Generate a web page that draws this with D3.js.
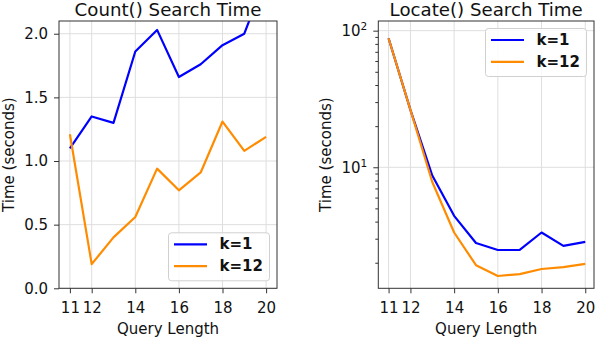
<!DOCTYPE html>
<html><head><meta charset="utf-8">
<script src="https://cdn.jsdelivr.net/npm/d3@7"></script>
<style>
body{margin:0;background:#fff;}
svg{display:block;font-family:"DejaVu Sans",sans-serif;}
</style></head><body>
<svg id="c" width="597" height="340"></svg>
<script>
const queryLength = [11,12,13,14,15,16,17,18,19,20];
const countK1  = [1.10,1.35,1.30,1.86,2.03,1.66,1.76,1.91,2.00,2.45];
const countK12 = [1.21,0.19,0.40,0.56,0.94,0.77,0.91,1.31,1.08,1.19];
const locateK1  = [88,26.3,8.7,4.41,2.79,2.48,2.48,3.33,2.66,2.84];
const locateK12 = [88,26.3,7.8,3.33,1.92,1.60,1.65,1.80,1.86,1.96];
const xTicks = [11,12,14,16,18,20];
const countYTicks = [0.0,0.5,1.0,1.5,2.0];
const locateYTicks = [10,100];
const locateMinor = [2,3,4,5,6,7,8,9,20,30,40,50,60,70,80,90];
const seriesNames = ["k=1","k=12"];
const seriesColors = ["#0000ff","#ff8c00"];
const titles = ["Count() Search Time","Locate() Search Time"];

const svg = d3.select("#c");
const FONT = 15;

function panel(cfg){
  const {x0,x1,y0,y1,x,y,ys,title,clipId,legendPos,yTickFmt,minor,ylabelX} = cfg;
  const g = svg.append("g");
  // grid
  g.selectAll(".gx").data(xTicks).join("line")
    .attr("x1",d=>x(d)).attr("x2",d=>x(d)).attr("y1",y0).attr("y2",y1)
    .attr("stroke","#dedede").attr("stroke-width",1);
  g.selectAll(".gy").data(cfg.yTicks).join("line")
    .attr("x1",x0).attr("x2",x1).attr("y1",d=>y(d)).attr("y2",d=>y(d))
    .attr("stroke","#dedede").attr("stroke-width",1);
  // clip
  svg.append("clipPath").attr("id",clipId).append("rect")
    .attr("x",x0).attr("y",y0).attr("width",x1-x0).attr("height",y1-y0);
  const line = d3.line().x((d,i)=>x(queryLength[i])).y(d=>y(d));
  ys.forEach((vals,k)=>{
    g.append("path").datum(vals).attr("d",line)
      .attr("fill","none").attr("stroke",seriesColors[k]).attr("stroke-width",2.2)
      .attr("stroke-linejoin","round").attr("clip-path",`url(#${clipId})`);
  });
  // frame
  g.append("rect").attr("x",x0).attr("y",y0).attr("width",x1-x0).attr("height",y1-y0)
    .attr("fill","none").attr("stroke","#333").attr("stroke-width",1);
  // x axis
  const ax = g.append("g").attr("transform",`translate(0,${y1})`)
    .call(d3.axisBottom(x).tickValues(xTicks).tickSize(5).tickPadding(5).tickFormat(d3.format("d")));
  ax.select(".domain").remove();
  ax.selectAll("line").attr("stroke","#333");
  ax.selectAll("text").attr("font-size",FONT).attr("fill","#111")
    .attr("font-family","DejaVu Sans").attr("dy","0.95em");
  // y axis
  const ay = g.append("g").attr("transform",`translate(${x0},0)`)
    .call(d3.axisLeft(y).tickValues(cfg.yTicks).tickSize(5).tickPadding(6).tickFormat(yTickFmt||(d=>d3.format(".1f")(d))));
  ay.select(".domain").remove();
  ay.selectAll("line").attr("stroke","#333");
  ay.selectAll("text").attr("font-size",FONT).attr("fill","#111").attr("font-family","DejaVu Sans");
  if(cfg.superscript){
    ay.selectAll("text").each(function(d){
      const t = d3.select(this);
      t.text("");
      t.append("tspan").text("10");
      t.append("tspan").attr("font-size",10.5).attr("dy","-0.55em").text(Math.round(Math.log10(d)));
    });
  }
  if(minor){
    const am = g.append("g").attr("transform",`translate(${x0},0)`)
      .call(d3.axisLeft(y).tickValues(minor).tickSize(3).tickFormat(""));
    am.select(".domain").remove();
    am.selectAll("line").attr("stroke","#333");
  }
  // title
  g.append("text").attr("x",(x0+x1)/2).attr("y",15.5).attr("text-anchor","middle")
    .attr("font-size",18.2).attr("fill","#111").text(title);
  // xlabel
  g.append("text").attr("x",(x0+x1)/2).attr("y",334).attr("text-anchor","middle")
    .attr("font-size",FONT).attr("fill","#111").text("Query Length");
  // ylabel
  g.append("text").attr("transform",`translate(${ylabelX},${(y0+y1)/2}) rotate(-90)`)
    .attr("text-anchor","middle").attr("dominant-baseline","central")
    .attr("font-size",FONT).attr("fill","#111").text("Time (seconds)");
  // legend
  const lw = 101, lh = 48;
  const lx = legendPos==="lr" ? x1-7.5-lw : x1-7.5-lw;
  const ly = legendPos==="lr" ? y1-7.5-lh : y0+7.5;
  const lg = g.append("g").attr("transform",`translate(${lx},${ly})`);
  lg.append("rect").attr("width",lw).attr("height",lh).attr("rx",3)
    .attr("fill","#fff").attr("fill-opacity",0.85).attr("stroke","#d0d0d0");
  seriesNames.forEach((n,k)=>{
    const yy = 11.5 + k*21.8;
    lg.append("line").attr("x1",5.5).attr("x2",38.5).attr("y1",yy).attr("y2",yy)
      .attr("stroke",seriesColors[k]).attr("stroke-width",2.2);
    lg.append("text").attr("x",51).attr("y",yy).attr("dominant-baseline","central")
      .attr("font-size",FONT).attr("font-weight","bold").attr("fill","#111").text(n);
  });
}

const xL = d3.scaleLinear().domain([10.5,20.5]).range([59,277]);
const yL = d3.scaleLinear().domain([0,2.1]).range([288.3,21]);
panel({x0:59,x1:277,y0:21,y1:288.3,x:xL,y:yL,ys:[countK1,countK12],title:titles[0],
  clipId:"clipL",legendPos:"lr",yTicks:countYTicks,ylabelX:9});

const xR = d3.scaleLinear().domain([10.53,20.4]).range([378.3,594]);
const yR = d3.scaleLog().domain([1.3,117.7]).range([288.3,21]);
panel({x0:378.3,x1:594,y0:21,y1:288.3,x:xR,y:yR,ys:[locateK1,locateK12],title:titles[1],
  clipId:"clipR",legendPos:"ur",yTicks:locateYTicks,minor:locateMinor,superscript:true,ylabelX:326});
</script></body></html>
